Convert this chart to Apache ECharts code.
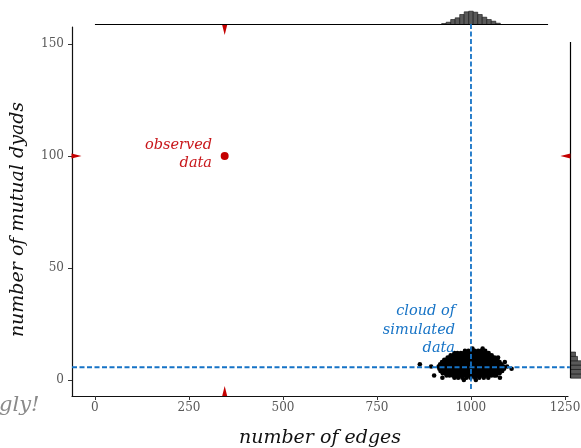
<!DOCTYPE html>
<html>
<head>
<meta charset="utf-8">
<script src="https://cdn.jsdelivr.net/npm/echarts@6/dist/echarts.min.js"></script>
<style>html,body{margin:0;padding:0;background:#fff}#c{width:581px;height:448px}</style>
</head>
<body>
<div id="c"></div>
<script>
// ---- data ----
const xTicks = [0, 250, 500, 750, 1000, 1250];
const yTicks = [0, 50, 100, 150];
const observed = [345, 100];
const meanEdges = 1000;
const meanMutual = 5.7;
const simulated = [
  [1004,14],[1031,14],
  [984,13],[993,13],[1001,13],[1010,13],[1019,13],[1027,13],[1038,13],
  [956,12],[964,12],[973,12],[981,12],[989,12],[998,12],[1006,12],[1014,12],[1023,12],[1031,12],[1040,12],[1047,12],
  [946,11],[954,11],[962,11],[971,11],[979,11],[987,11],[996,11],[1004,11],[1012,11],[1021,11],[1029,11],[1037,11],[1046,11],[1055,11],
  [938,10],[946,10],[955,10],[963,10],[972,10],[980,10],[988,10],[996,10],[1004,10],[1013,10],[1021,10],[1030,10],[1038,10],[1047,10],[1056,10],[1063,10],
  [929,9],[937,9],[946,9],[954,9],[962,9],[971,9],[979,9],[987,9],[995,9],[1003,9],[1012,9],[1020,9],[1028,9],[1037,9],[1045,9],[1054,9],[1062,9],[1070,9],
  [923,8],[931,8],[940,8],[948,8],[957,8],[965,8],[974,8],[982,8],[991,8],[999,8],[1008,8],[1016,8],[1025,8],[1033,8],[1042,8],[1050,8],[1059,8],[1067,8],[1076,8],
  [918,7],[926,7],[935,7],[943,7],[952,7],[960,7],[969,7],[977,7],[986,7],[994,7],[1003,7],[1011,7],[1020,7],[1028,7],[1037,7],[1045,7],[1054,7],[1062,7],[1071,7],[1081,7],
  [914,6],[922,6],[931,6],[939,6],[948,6],[956,6],[965,6],[973,6],[982,6],[990,6],[999,6],[1007,6],[1016,6],[1024,6],[1033,6],[1041,6],[1050,6],[1058,6],[1067,6],[1076,6],[1086,6],
  [916,5],[924,5],[933,5],[941,5],[950,5],[958,5],[967,5],[975,5],[984,5],[992,5],[1001,5],[1009,5],[1018,5],[1026,5],[1035,5],[1043,5],[1052,5],[1060,5],[1069,5],[1078,5],[1088,5],
  [919,4],[927,4],[936,4],[944,4],[953,4],[961,4],[970,4],[978,4],[987,4],[995,4],[1004,4],[1012,4],[1021,4],[1029,4],[1038,4],[1046,4],[1055,4],[1063,4],[1072,4],[1083,4],
  [925,3],[933,3],[942,3],[950,3],[959,3],[967,3],[976,3],[984,3],[993,3],[1001,3],[1010,3],[1018,3],[1027,3],[1035,3],[1044,3],[1052,3],[1061,3],[1069,3],[1076,3],
  [935,2],[943,2],[952,2],[960,2],[969,2],[977,2],[986,2],[994,2],[1003,2],[1011,2],[1020,2],[1028,2],[1037,2],[1045,2],[1054,2],[1062,2],[1067,2],
  [956,1],[966,1],[977,1],[988,1],[999,1],[1011,1],[1022,1],[1034,1],[1046,1],
  [981,0],[1013,0],
  [864,7],[894,6],[902,2],[924,1],[1108,5],[1096,6],[1090,8],[1072,10],[941,9],[1077,1]
];
// marginal histogram of edges
const edgeBinEdges = [922, 934, 946, 958, 970, 982, 994, 1006, 1018, 1030, 1042, 1054, 1066, 1078];
const edgeCounts = [10, 23, 50, 67, 100, 127, 133, 123, 100, 73, 50, 33, 13];
// marginal histogram of mutual dyads
const mutualBinEdges = [0.8, 2.75, 4.7, 6.65, 8.6, 10.55, 12.5];
const mutualCounts = [150, 200, 220, 180, 70, 50];

// ---- chart ----
const FONT = 'DejaVu Serif';
const RED = '#c40000';
const BLUE = '#1673c6';
const X_MIN = -61, X_MAX = 1258, Y_MIN = -7.14, Y_MAX = 157.6;

const topHist = edgeCounts.map((c, i) => [edgeBinEdges[i], edgeBinEdges[i + 1], c]);
const rightHist = mutualCounts.map((c, i) => [mutualBinEdges[i], mutualBinEdges[i + 1], c]);

const chart = echarts.init(document.getElementById('c'), null, {renderer: 'canvas'});
chart.setOption({
  animation: false,
  backgroundColor: '#ffffff',
  grid: [
    {left: 72, top: 27, width: 496, height: 369, containLabel: false, outerBoundsMode: 'none'},
    {left: 72, top: 4.5, width: 496, height: 20, containLabel: false, outerBoundsMode: 'none'},
    {left: 570.5, top: 27, width: 14, height: 369, containLabel: false, outerBoundsMode: 'none'}
  ],
  xAxis: [
    {
      gridIndex: 0, type: 'value', min: X_MIN, max: X_MAX,
      name: 'number of edges', nameLocation: 'middle', nameGap: 33,
      nameTextStyle: {fontFamily: FONT, fontStyle: 'italic', fontSize: 19, color: '#111'},
      axisLine: {show: true, onZero: false, lineStyle: {color: '#111', width: 1.2}},
      axisTick: {show: true, length: 4, lineStyle: {color: '#333'}, customValues: xTicks},
      axisLabel: {fontFamily: FONT, fontSize: 12, color: '#595959', margin: 6, customValues: xTicks,
                  formatter: function (v) { return String(v); }},
      splitLine: {show: false}
    },
    {gridIndex: 1, type: 'value', min: X_MIN, max: X_MAX, show: false},
    {gridIndex: 2, type: 'value', min: 0, max: 140, show: false}
  ],
  yAxis: [
    {
      gridIndex: 0, type: 'value', min: Y_MIN, max: Y_MAX,
      name: 'number of mutual dyads', nameLocation: 'middle', nameGap: 44,
      nameTextStyle: {fontFamily: FONT, fontStyle: 'italic', fontSize: 19, color: '#111', padding: [0, 16, 0, 0]},
      axisLine: {show: true, onZero: false, lineStyle: {color: '#111', width: 1.2}},
      axisTick: {show: true, length: 4, lineStyle: {color: '#333'}, customValues: yTicks},
      axisLabel: {fontFamily: FONT, fontSize: 12, color: '#595959', margin: 8, customValues: yTicks,
                  formatter: function (v) { return String(v); }},
      splitLine: {show: false}
    },
    {gridIndex: 1, type: 'value', min: 0, max: 200, show: false},
    {gridIndex: 2, type: 'value', min: Y_MIN, max: Y_MAX, show: false}
  ],
  series: [
    // top histogram baseline
    {type: 'line', xAxisIndex: 1, yAxisIndex: 1, data: [[0, 0], [1205, 0]], symbol: 'none',
     lineStyle: {color: '#000', width: 1}, silent: true},
    {type: 'custom', xAxisIndex: 1, yAxisIndex: 1, data: topHist, encode: {x: [0, 1], y: 2},
     renderItem: function (params, api) {
       const a = api.coord([api.value(0), api.value(2)]);
       const b = api.coord([api.value(1), 0]);
       return {type: 'rect', shape: {x: a[0], y: a[1], width: b[0] - a[0], height: b[1] - a[1]},
               style: {fill: '#595959', stroke: '#111', lineWidth: 0.6}};
     }},
    // right histogram baseline
    {type: 'line', xAxisIndex: 2, yAxisIndex: 2, data: [[0, 0.9], [0, 150.9]], symbol: 'none',
     lineStyle: {color: '#000', width: 1.2}, silent: true},
    {type: 'custom', xAxisIndex: 2, yAxisIndex: 2, data: rightHist, encode: {y: [0, 1], x: 2},
     renderItem: function (params, api) {
       const a = api.coord([0, api.value(1)]);
       const b = api.coord([api.value(2), api.value(0)]);
       return {type: 'rect', shape: {x: a[0], y: a[1], width: b[0] - a[0], height: b[1] - a[1]},
               style: {fill: '#595959', stroke: '#111', lineWidth: 0.6}};
     }},
    // simulated cloud
    {type: 'scatter', xAxisIndex: 0, yAxisIndex: 0, data: simulated, symbolSize: 4.6,
     itemStyle: {color: '#000', opacity: 1}, silent: true},
    // mean lines
    {type: 'line', xAxisIndex: 0, yAxisIndex: 0, data: [[meanEdges, 158.9], [meanEdges, -4.5]],
     symbol: 'none', clip: false, lineStyle: {color: BLUE, width: 1.8, type: [5, 2.5]}, z: 5},
    {type: 'line', xAxisIndex: 0, yAxisIndex: 0, data: [[X_MIN, meanMutual], [1263, meanMutual]],
     symbol: 'none', clip: false, lineStyle: {color: BLUE, width: 1.8, type: [5, 2.5]}, z: 5},
    // observed point
    {type: 'scatter', xAxisIndex: 0, yAxisIndex: 0, data: [observed], symbolSize: 8,
     itemStyle: {color: RED, opacity: 1}, z: 6},
    // observed markers on margins
    {type: 'scatter', xAxisIndex: 0, yAxisIndex: 0, clip: false, z: 6,
     data: [[observed[0], 156.3]], symbol: 'triangle', symbolSize: [5, 10], symbolRotate: 180,
     itemStyle: {color: RED, opacity: 1}},
    {type: 'scatter', xAxisIndex: 0, yAxisIndex: 0, clip: false, z: 6,
     data: [[observed[0], -4.9]], symbol: 'triangle', symbolSize: [5, 10], symbolRotate: 0,
     itemStyle: {color: RED, opacity: 1}},
    {type: 'scatter', xAxisIndex: 0, yAxisIndex: 0, clip: false, z: 6,
     data: [[-49, observed[1]]], symbol: 'triangle', symbolSize: [5, 10], symbolRotate: -90,
     itemStyle: {color: RED, opacity: 1}},
    {type: 'scatter', xAxisIndex: 0, yAxisIndex: 0, clip: false, z: 6,
     data: [[1251, observed[1]]], symbol: 'triangle', symbolSize: [5, 10], symbolRotate: 90,
     itemStyle: {color: RED, opacity: 1}}
  ],
  graphic: [
    {type: 'text', x: 212, y: 136, z: 10,
     style: {text: 'observed\ndata', fill: '#c8161a', font: 'italic 14.5px "DejaVu Serif"',
             align: 'right', verticalAlign: 'top', lineHeight: 18}},
    {type: 'text', x: 455, y: 302, z: 10,
     style: {text: 'cloud of\nsimulated\ndata', fill: BLUE, font: 'italic 14.5px "DejaVu Serif"',
             align: 'right', verticalAlign: 'top', lineHeight: 18.5}},
    {type: 'text', x: -1, y: 395, z: 10,
     style: {text: 'gly!', fill: '#8a8a8a', font: 'italic 21px "DejaVu Serif"',
             align: 'left', verticalAlign: 'top'}}
  ]
});
</script>
</body>
</html>
